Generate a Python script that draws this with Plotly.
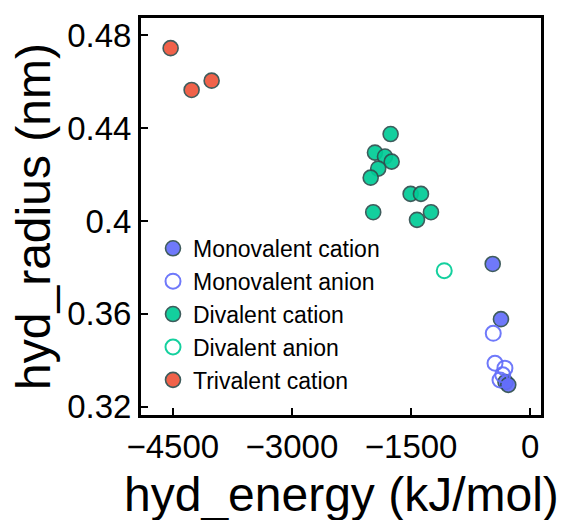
import plotly.graph_objects as go

# Data
mono_cat_x = [-473, -369, -312, -277]
mono_cat_y = [0.3815, 0.3577, 0.3306, 0.3294]

mono_an_x = [-466, -444, -319, -347, -381]
mono_an_y = [0.3516, 0.3387, 0.3366, 0.3337, 0.3315]

di_cat_x = [-1758, -1955, -1829, -1745, -1914, -2009, -1506, -1376, -1977, -1250, -1426]
di_cat_y = [0.4375, 0.4295, 0.4278, 0.4256, 0.4226, 0.4187, 0.4117, 0.4117, 0.4038, 0.4038, 0.4005]

di_an_x = [-1083]
di_an_y = [0.3786]

tri_cat_x = [-4527, -4263, -4011]
tri_cat_y = [0.4745, 0.4565, 0.4605]

x_ticks = [-4500, -3000, -1500, 0]
y_ticks = [0.32, 0.36, 0.40, 0.44, 0.48]
y_tick_labels = ["0.32", "0.36", "0.4", "0.44", "0.48"]

x_title = "hyd_energy (kJ/mol)"
y_title = "hyd_radius (nm)"

BLUE = "#636EFA"
GREEN = "#00CC96"
RED = "#EF553B"
EDGE = "DarkSlateGrey"

fig = go.Figure()

def filled(x, y, color, name):
    fig.add_trace(go.Scatter(
        x=x, y=y, mode="markers", name=name,
        marker=dict(symbol="circle", size=15, color=color, opacity=0.92,
                    line=dict(width=1.6, color=EDGE)),
    ))

def hollow(x, y, color, name):
    fig.add_trace(go.Scatter(
        x=x, y=y, mode="markers", name=name,
        marker=dict(symbol="circle-open", size=15, color=color, opacity=0.92,
                    line=dict(width=2)),
    ))

filled(mono_cat_x, mono_cat_y, BLUE, "Monovalent cation")
hollow(mono_an_x, mono_an_y, BLUE, "Monovalent anion")
filled(di_cat_x, di_cat_y, GREEN, "Divalent cation")
hollow(di_an_x, di_an_y, GREEN, "Divalent anion")
filled(tri_cat_x, tri_cat_y, RED, "Trivalent cation")

font_family = "Arial, Liberation Sans, sans-serif"

fig.update_layout(
    width=562, height=520,
    margin=dict(l=141, r=21, t=18, b=105),
    paper_bgcolor="white", plot_bgcolor="white",
    font=dict(family=font_family, color="black"),
    showlegend=True,
    legend=dict(
        x=0.03, y=0.474, xanchor="left", yanchor="top",
        bgcolor="rgba(0,0,0,0)",
        font=dict(size=23, family=font_family, color="black"),
        tracegroupgap=0,
    ),
    xaxis=dict(
        range=[-4900, 135],
        tickvals=x_ticks,
        ticks="inside", ticklen=7, tickwidth=2, tickcolor="black",
        showline=True, linewidth=3, linecolor="black", mirror=True,
        showgrid=False, zeroline=False,
        tickfont=dict(size=33, family=font_family, color="black"),
        automargin=False,
    ),
    yaxis=dict(
        range=[0.3164, 0.4875],
        tickvals=y_ticks, ticktext=y_tick_labels,
        ticks="inside", ticklen=7, tickwidth=2, tickcolor="black",
        showline=True, linewidth=3, linecolor="black", mirror=True,
        showgrid=False, zeroline=False,
        tickfont=dict(size=33, family=font_family, color="black"),
        title=dict(text=y_title,
                   font=dict(size=48, family=font_family, color="black"),
                   standoff=2),
        automargin=False,
    ),
    annotations=[dict(
        text=x_title, xref="paper", yref="paper", x=0.5, y=0,
        xanchor="center", yanchor="top", yshift=-51, showarrow=False,
        font=dict(size=48, family=font_family, color="black"),
    )],
)

fig.write_html("out.html")
